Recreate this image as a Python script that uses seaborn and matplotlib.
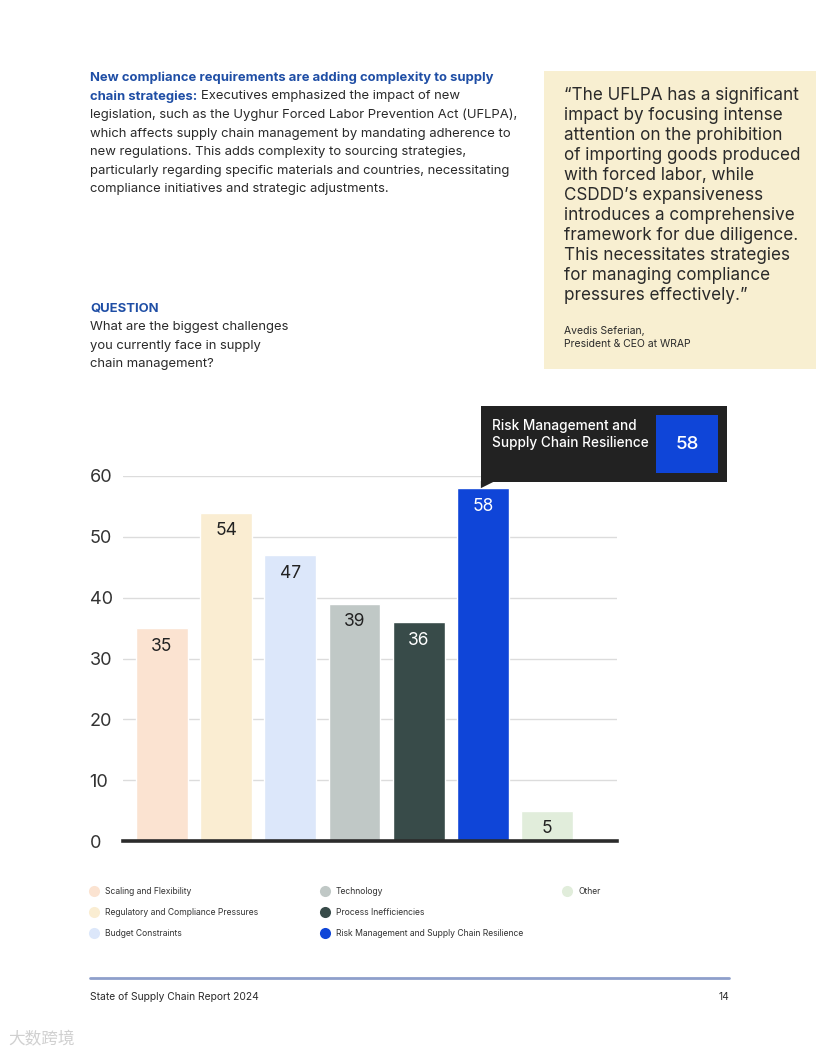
import numpy as np
import matplotlib.pyplot as plt
import seaborn as sns
from matplotlib.lines import Line2D
from matplotlib.patches import Rectangle, Polygon

# Survey answers (percent of respondents)
categories = ["Scaling and Flexibility", "Regulatory and Compliance Pressures",
              "Budget Constraints", "Technology", "Process Inefficiencies",
              "Risk Management and Supply Chain Resilience", "Other"]
values = [35, 54, 47, 39, 36, 58, 5]
colors = ["#FBE3D1", "#FAEDD2", "#DCE7FA", "#C0C8C6", "#384B49", "#0F45D8", "#E1EDDB"]
label_colors = ["#222222", "#222222", "#222222", "#222222", "#FFFFFF", "#FFFFFF", "#222222"]
yticks = [0, 10, 20, 30, 40, 50, 60]
highlight = 5

sns.set_theme(style="white")
plt.rcParams['font.family'] = ['Inter', 'DejaVu Sans']
TXT = "#2A2A2A"
BLUE = "#1F4EA5"

W, H = 816, 1056
fig = plt.figure(figsize=(W / 100, H / 100), dpi=100)
fig.patch.set_facecolor("white")


def fx(px):
    return px / W


def fy(py):
    return 1 - py / H


# ---- top paragraph
head1 = fig.text(fx(90), fy(78), "New compliance requirements are adding complexity to supply",
                 color=BLUE, fontsize=9.4, fontweight="bold", va="center")
head2 = fig.text(fx(90), fy(96.5), "chain strategies:", color=BLUE, fontsize=9.4,
                 fontweight="bold", va="center")
fig.canvas.draw()
bb = head2.get_window_extent()
fig.text(fx(bb.x1 + 4), fy(96.5), "Executives emphasized the impact of new",
         color=TXT, fontsize=9.4, va="center")
para = ["legislation, such as the Uyghur Forced Labor Prevention Act (UFLPA),",
        "which affects supply chain management by mandating adherence to",
        "new regulations. This adds complexity to sourcing strategies,",
        "particularly regarding specific materials and countries, necessitating",
        "compliance initiatives and strategic adjustments."]
for i, line in enumerate(para):
    fig.text(fx(90), fy(115 + 18.6 * i), line, color=TXT, fontsize=9.4, va="center")

# ---- quote box
fig.patches.append(Rectangle((fx(544), fy(369)), fx(816 - 544), (369 - 71) / H,
                             transform=fig.transFigure, facecolor="#F8EFD1",
                             edgecolor="none", zorder=0))
quote = ["\u201cThe UFLPA has a significant", "impact by focusing intense",
         "attention on the prohibition", "of importing goods produced",
         "with forced labor, while", "CSDDD\u2019s expansiveness",
         "introduces a comprehensive", "framework for due diligence.",
         "This necessitates strategies", "for managing compliance",
         "pressures effectively.\u201d"]
for i, line in enumerate(quote):
    fig.text(fx(564), fy(95 + 20.05 * i), line, color=TXT, fontsize=12.3, va="center")
fig.text(fx(564), fy(331), "Avedis Seferian,", color=TXT, fontsize=7.5, va="center")
fig.text(fx(564), fy(344), "President & CEO at WRAP", color=TXT, fontsize=7.5, va="center")

# ---- question
fig.text(fx(90), fy(308), "QUESTION", color=BLUE, fontsize=9.4, fontweight="bold", va="center")
for i, line in enumerate(["What are the biggest challenges", "you currently face in supply",
                          "chain management?"]):
    fig.text(fx(90), fy(327 + 18.6 * i), line, color=TXT, fontsize=9.4, va="center")

# ---- bar chart
ax = fig.add_axes([fx(123), fy(841), fx(617 - 123), (841 - 476) / H])
sns.barplot(x=categories, y=values, hue=categories, palette=colors, legend=False,
            width=0.81, saturation=1, ax=ax, zorder=2)
ax.set_xlim(-0.607, 7.09)
ax.set_ylim(0, 60)
ax.set_yticks(yticks)
ax.set_yticklabels([str(t) for t in yticks], fontsize=13, color="#333333", ha="left")
ax.tick_params(axis="y", length=0, pad=24)
ax.set_xticks([])
ax.set_xlabel("")
ax.set_ylabel("")
ax.grid(axis="y", color="#DCDCDC", linewidth=1, zorder=0)
ax.set_axisbelow(True)
for s in ["top", "right", "left"]:
    ax.spines[s].set_visible(False)
ax.spines["bottom"].set_color("#2B2B2B")
ax.spines["bottom"].set_linewidth(2.6)
ax.spines["bottom"].set_zorder(3)

for i, (v, c) in enumerate(zip(values, label_colors)):
    ax.annotate(str(v), (i, v), xytext=(0, -13), textcoords="offset points",
                ha="center", va="center", fontsize=12.5, color=c, zorder=4)

# ---- tooltip for highlighted bar, anchored on the bar top
fig.canvas.draw()
bar_w = ax.patches[highlight].get_width()
x0, y0 = ax.transData.transform((highlight - bar_w / 2, values[highlight]))
inv = fig.transFigure.inverted()


def disp(dx, dy):
    return inv.transform((x0 + dx, y0 + dy))


box_b, box_h, box_w = 6, 76, 246
bl = disp(24, box_b)
tr = disp(24 + box_w, box_b + box_h)
fig.patches.append(Rectangle(bl, tr[0] - bl[0], tr[1] - bl[1], transform=fig.transFigure,
                             facecolor="#222222", edgecolor="none", zorder=5))
fig.patches.append(Polygon([disp(24, box_b + 1), disp(38, box_b + 1), disp(24, 0)],
                           closed=True, transform=fig.transFigure,
                           facecolor="#222222", edgecolor="none", zorder=5))
ib = disp(24 + 175, box_b + 9)
it = disp(24 + 237, box_b + 67)
fig.patches.append(Rectangle(ib, it[0] - ib[0], it[1] - ib[1], transform=fig.transFigure,
                             facecolor=colors[highlight], edgecolor="none", zorder=6))
tx = disp(35, box_b + 56)
fig.text(tx[0], tx[1], "Risk Management and", color="white", fontsize=9.8,
         fontweight="medium", va="center", zorder=7)
tx = disp(35, box_b + 39)
fig.text(tx[0], tx[1], "Supply Chain Resilience", color="white", fontsize=9.8,
         fontweight="medium", va="center", zorder=7)
tc = disp(24 + 206, box_b + 38)
fig.text(tc[0], tc[1], str(values[highlight]), color="white", fontsize=13.5,
         fontweight="medium", ha="center", va="center", zorder=7)

# ---- legend in three columns
handles = [Line2D([], [], marker="o", linestyle="none", markersize=8,
                  markerfacecolor=c, markeredgecolor="none") for c in colors]
cols = [(0, 3, 90), (3, 6, 321), (6, 7, 563)]
for a, b, xpos in cols:
    fig.legend(handles[a:b], categories[a:b], loc="upper left",
               bbox_to_anchor=(fx(xpos), fy(887)), frameon=False, fontsize=6.2,
               labelspacing=1.38, handletextpad=0.75, handlelength=1.0,
               borderaxespad=0, borderpad=0, labelcolor="#333333")

# ---- footer
fig.add_artist(Line2D([fx(90), fx(729)], [fy(978), fy(978)], color="#8E9FCB", linewidth=2))
fig.text(fx(90), fy(997), "State of Supply Chain Report 2024", color=TXT, fontsize=7.4, va="center")
fig.text(fx(729), fy(997), "14", color=TXT, fontsize=7.4, va="center", ha="right")
fig.text(fx(8), fy(1040), "大数跨境", color="#D0D0D0", fontsize=12, va="center",
         family=["Noto Sans CJK SC", "DejaVu Sans"])

fig.savefig("out.png", dpi=100)
